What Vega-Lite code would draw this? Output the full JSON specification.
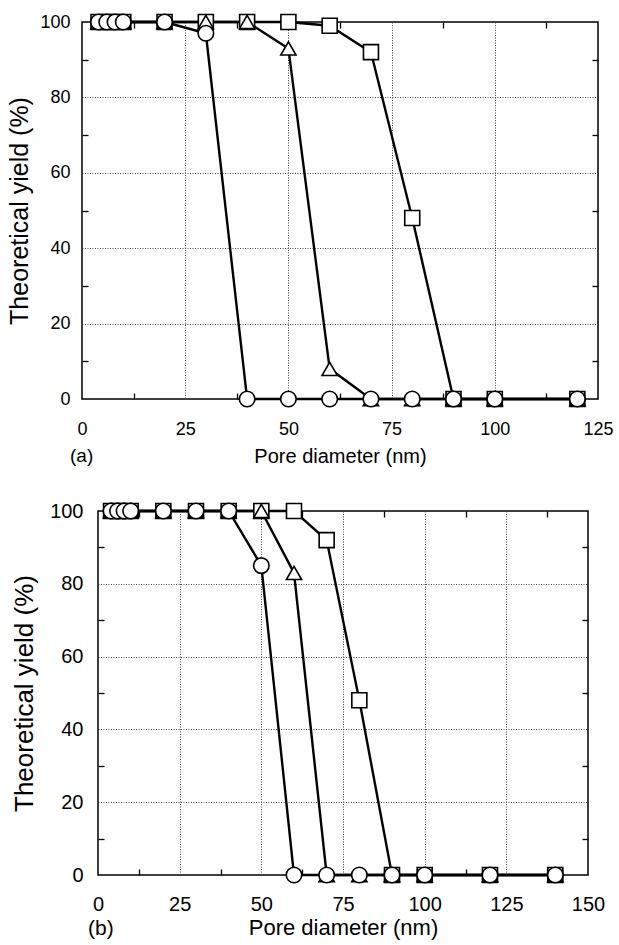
{
  "$schema": "https://vega.github.io/schema/vega-lite/v6.json",
  "background": "white",
  "padding": {"left": 0, "top": 10, "right": 0, "bottom": 0},
  "config": {
    "font": "Liberation Sans",
    "view": {"stroke": "black", "strokeWidth": 1.5},
    "axis": {"domain": false, "labelColor": "black", "titleColor": "black", "tickColor": "black", "tickWidth": 1.3, "titleFontWeight": "normal", "gridColor": "#333", "gridDash": [1, 1.5], "gridWidth": 0.9},
    "title": {"fontWeight": "normal", "color": "black"}
  },
  "datasets": {
    "a": [
      {"series": "square", "x": 4, "y": 100}, {"series": "square", "x": 6, "y": 100}, {"series": "square", "x": 8, "y": 100}, {"series": "square", "x": 10, "y": 100},
      {"series": "square", "x": 20, "y": 100}, {"series": "square", "x": 30, "y": 100}, {"series": "square", "x": 40, "y": 100}, {"series": "square", "x": 50, "y": 100},
      {"series": "square", "x": 60, "y": 99}, {"series": "square", "x": 70, "y": 92}, {"series": "square", "x": 80, "y": 48}, {"series": "square", "x": 90, "y": 0},
      {"series": "square", "x": 100, "y": 0}, {"series": "square", "x": 120, "y": 0},
      {"series": "triangle", "x": 4, "y": 100}, {"series": "triangle", "x": 6, "y": 100}, {"series": "triangle", "x": 8, "y": 100}, {"series": "triangle", "x": 10, "y": 100},
      {"series": "triangle", "x": 20, "y": 100}, {"series": "triangle", "x": 30, "y": 100}, {"series": "triangle", "x": 40, "y": 100}, {"series": "triangle", "x": 50, "y": 93},
      {"series": "triangle", "x": 60, "y": 8}, {"series": "triangle", "x": 70, "y": 0}, {"series": "triangle", "x": 80, "y": 0}, {"series": "triangle", "x": 90, "y": 0},
      {"series": "triangle", "x": 100, "y": 0}, {"series": "triangle", "x": 120, "y": 0},
      {"series": "circle", "x": 4, "y": 100}, {"series": "circle", "x": 6, "y": 100}, {"series": "circle", "x": 8, "y": 100}, {"series": "circle", "x": 10, "y": 100},
      {"series": "circle", "x": 20, "y": 100}, {"series": "circle", "x": 30, "y": 97}, {"series": "circle", "x": 40, "y": 0}, {"series": "circle", "x": 50, "y": 0},
      {"series": "circle", "x": 60, "y": 0}, {"series": "circle", "x": 70, "y": 0}, {"series": "circle", "x": 80, "y": 0}, {"series": "circle", "x": 90, "y": 0},
      {"series": "circle", "x": 100, "y": 0}, {"series": "circle", "x": 120, "y": 0}
    ],
    "b": [
      {"series": "square", "x": 4, "y": 100}, {"series": "square", "x": 6, "y": 100}, {"series": "square", "x": 8, "y": 100}, {"series": "square", "x": 10, "y": 100},
      {"series": "square", "x": 20, "y": 100}, {"series": "square", "x": 30, "y": 100}, {"series": "square", "x": 40, "y": 100}, {"series": "square", "x": 50, "y": 100},
      {"series": "square", "x": 60, "y": 100}, {"series": "square", "x": 70, "y": 92}, {"series": "square", "x": 80, "y": 48}, {"series": "square", "x": 90, "y": 0},
      {"series": "square", "x": 100, "y": 0}, {"series": "square", "x": 120, "y": 0}, {"series": "square", "x": 140, "y": 0},
      {"series": "triangle", "x": 4, "y": 100}, {"series": "triangle", "x": 6, "y": 100}, {"series": "triangle", "x": 8, "y": 100}, {"series": "triangle", "x": 10, "y": 100},
      {"series": "triangle", "x": 20, "y": 100}, {"series": "triangle", "x": 30, "y": 100}, {"series": "triangle", "x": 40, "y": 100}, {"series": "triangle", "x": 50, "y": 100},
      {"series": "triangle", "x": 60, "y": 83}, {"series": "triangle", "x": 70, "y": 0}, {"series": "triangle", "x": 80, "y": 0}, {"series": "triangle", "x": 90, "y": 0},
      {"series": "triangle", "x": 100, "y": 0}, {"series": "triangle", "x": 120, "y": 0}, {"series": "triangle", "x": 140, "y": 0},
      {"series": "circle", "x": 4, "y": 100}, {"series": "circle", "x": 6, "y": 100}, {"series": "circle", "x": 8, "y": 100}, {"series": "circle", "x": 10, "y": 100},
      {"series": "circle", "x": 20, "y": 100}, {"series": "circle", "x": 30, "y": 100}, {"series": "circle", "x": 40, "y": 100}, {"series": "circle", "x": 50, "y": 85},
      {"series": "circle", "x": 60, "y": 0}, {"series": "circle", "x": 70, "y": 0}, {"series": "circle", "x": 80, "y": 0}, {"series": "circle", "x": 90, "y": 0},
      {"series": "circle", "x": 100, "y": 0}, {"series": "circle", "x": 120, "y": 0}, {"series": "circle", "x": 140, "y": 0}
    ]
  },
  "spacing": 32,
  "vconcat": [
    {
      "spacing": 0,
      "hconcat": [
        {"width": 7, "height": 1, "view": {"stroke": null}, "data": {"values": []}, "mark": "point"},
        {
          "width": 516,
          "height": 377,
          "data": {"name": "a"},
          "title": {"text": "(a)", "orient": "bottom", "anchor": "start", "frame": "group", "fontSize": 19, "offset": -19, "dx": -12},
          "resolve": {"axis": {"x": "independent", "y": "independent"}},
          "layer": [
            {
              "mark": {"type": "line", "color": "black", "strokeWidth": 2.4},
              "encoding": {
                "x": {"field": "x", "type": "quantitative", "scale": {"domain": [0, 125], "nice": false},
                  "axis": {"orient": "bottom", "title": "Pore diameter (nm)", "values": [0, 12.5, 25, 37.5, 50, 62.5, 75, 87.5, 100, 112.5, 125],
                    "labelExpr": "datum.value % 25 === 0 ? datum.label : ''", "grid": true,
                    "gridOpacity": {"condition": {"test": "datum.value % 25 === 0 && datum.value > 0 && datum.value < 125", "value": 1}, "value": 0},
                    "tickSize": -6, "tickOpacity": {"condition": {"test": "datum.value % 25 === 0", "value": 0}, "value": 1},
                    "labelFontSize": 18, "titleFontSize": 20, "labelPadding": 27, "titlePadding": 8, "labelFlush": false}},
                "y": {"field": "y", "type": "quantitative", "scale": {"domain": [0, 100], "nice": false},
                  "axis": {"orient": "left", "title": "Theoretical yield (%)", "values": [0, 10, 20, 30, 40, 50, 60, 70, 80, 90, 100],
                    "labelExpr": "datum.value % 20 === 0 ? datum.label : ''", "grid": true,
                    "gridOpacity": {"condition": {"test": "datum.value % 20 === 0 && datum.value > 0 && datum.value < 100", "value": 1}, "value": 0},
                    "tickSize": -6, "tickOpacity": {"condition": {"test": "datum.value % 20 === 0", "value": 0}, "value": 1},
                    "labelFontSize": 18, "titleFontSize": 25, "labelPadding": 18, "titlePadding": 7, "labelFlush": false}},
                "detail": {"field": "series"}
              }
            },
            {
              "mark": {"type": "point", "filled": true, "fill": "white", "stroke": "black", "strokeWidth": 1.6, "opacity": 1},
              "encoding": {
                "x": {"field": "x", "type": "quantitative",
                  "axis": {"orient": "top", "title": null, "labels": false, "grid": false, "values": [0, 12.5, 25, 37.5, 50, 62.5, 75, 87.5, 100, 112.5, 125],
                    "tickSize": -6, "tickOpacity": {"condition": {"test": "datum.value % 25 === 0", "value": 0}, "value": 1}}},
                "y": {"field": "y", "type": "quantitative",
                  "axis": {"orient": "right", "title": null, "labels": false, "grid": false, "values": [0, 10, 20, 30, 40, 50, 60, 70, 80, 90, 100],
                    "tickSize": -6, "tickOpacity": {"condition": {"test": "datum.value % 20 === 0", "value": 0}, "value": 1}}},
                "shape": {"field": "series", "type": "nominal", "scale": {"domain": ["square", "triangle", "circle"], "range": ["square", "triangle-up", "circle"]}, "legend": null},
                "size": {"field": "series", "type": "ordinal", "scale": {"domain": ["square", "triangle", "circle"], "range": [225, 240, 200]}, "legend": null}
              }
            }
          ]
        }
      ]
    },
    {
      "spacing": 0,
      "hconcat": [
        {"width": 10, "height": 1, "view": {"stroke": null}, "data": {"values": []}, "mark": "point"},
        {
          "width": 490,
          "height": 364,
          "data": {"name": "b"},
          "title": {"text": "(b)", "orient": "bottom", "anchor": "start", "frame": "group", "fontSize": 21, "offset": -20, "dx": -10},
          "resolve": {"axis": {"x": "independent", "y": "independent"}},
          "layer": [
            {
              "mark": {"type": "line", "color": "black", "strokeWidth": 2.4},
              "encoding": {
                "x": {"field": "x", "type": "quantitative", "scale": {"domain": [0, 150], "nice": false},
                  "axis": {"orient": "bottom", "title": "Pore diameter (nm)", "values": [0, 12.5, 25, 37.5, 50, 62.5, 75, 87.5, 100, 112.5, 125, 137.5, 150],
                    "labelExpr": "datum.value % 25 === 0 ? datum.label : ''", "grid": true,
                    "gridOpacity": {"condition": {"test": "datum.value % 25 === 0 && datum.value > 0 && datum.value < 150", "value": 1}, "value": 0},
                    "tickSize": -6, "tickOpacity": {"condition": {"test": "datum.value % 25 === 0", "value": 0}, "value": 1},
                    "labelFontSize": 20, "titleFontSize": 22, "labelPadding": 25, "titlePadding": 3, "labelFlush": false}},
                "y": {"field": "y", "type": "quantitative", "scale": {"domain": [0, 100], "nice": false},
                  "axis": {"orient": "left", "title": "Theoretical yield (%)", "values": [0, 10, 20, 30, 40, 50, 60, 70, 80, 90, 100],
                    "labelExpr": "datum.value % 20 === 0 ? datum.label : ''", "grid": true,
                    "gridOpacity": {"condition": {"test": "datum.value % 20 === 0 && datum.value > 0 && datum.value < 100", "value": 1}, "value": 0},
                    "tickSize": -6, "tickOpacity": {"condition": {"test": "datum.value % 20 === 0", "value": 0}, "value": 1},
                    "labelFontSize": 20, "titleFontSize": 26, "labelPadding": 21, "titlePadding": 12, "labelFlush": false}},
                "detail": {"field": "series"}
              }
            },
            {
              "mark": {"type": "point", "filled": true, "fill": "white", "stroke": "black", "strokeWidth": 1.6, "opacity": 1},
              "encoding": {
                "x": {"field": "x", "type": "quantitative",
                  "axis": {"orient": "top", "title": null, "labels": false, "grid": false, "values": [0, 12.5, 25, 37.5, 50, 62.5, 75, 87.5, 100, 112.5, 125, 137.5, 150],
                    "tickSize": -6, "tickOpacity": {"condition": {"test": "datum.value % 25 === 0", "value": 0}, "value": 1}}},
                "y": {"field": "y", "type": "quantitative",
                  "axis": {"orient": "right", "title": null, "labels": false, "grid": false, "values": [0, 10, 20, 30, 40, 50, 60, 70, 80, 90, 100],
                    "tickSize": -6, "tickOpacity": {"condition": {"test": "datum.value % 20 === 0", "value": 0}, "value": 1}}},
                "shape": {"field": "series", "type": "nominal", "scale": {"domain": ["square", "triangle", "circle"], "range": ["square", "triangle-up", "circle"]}, "legend": null},
                "size": {"field": "series", "type": "ordinal", "scale": {"domain": ["square", "triangle", "circle"], "range": [210, 225, 180]}, "legend": null}
              }
            }
          ]
        }
      ]
    }
  ]
}
